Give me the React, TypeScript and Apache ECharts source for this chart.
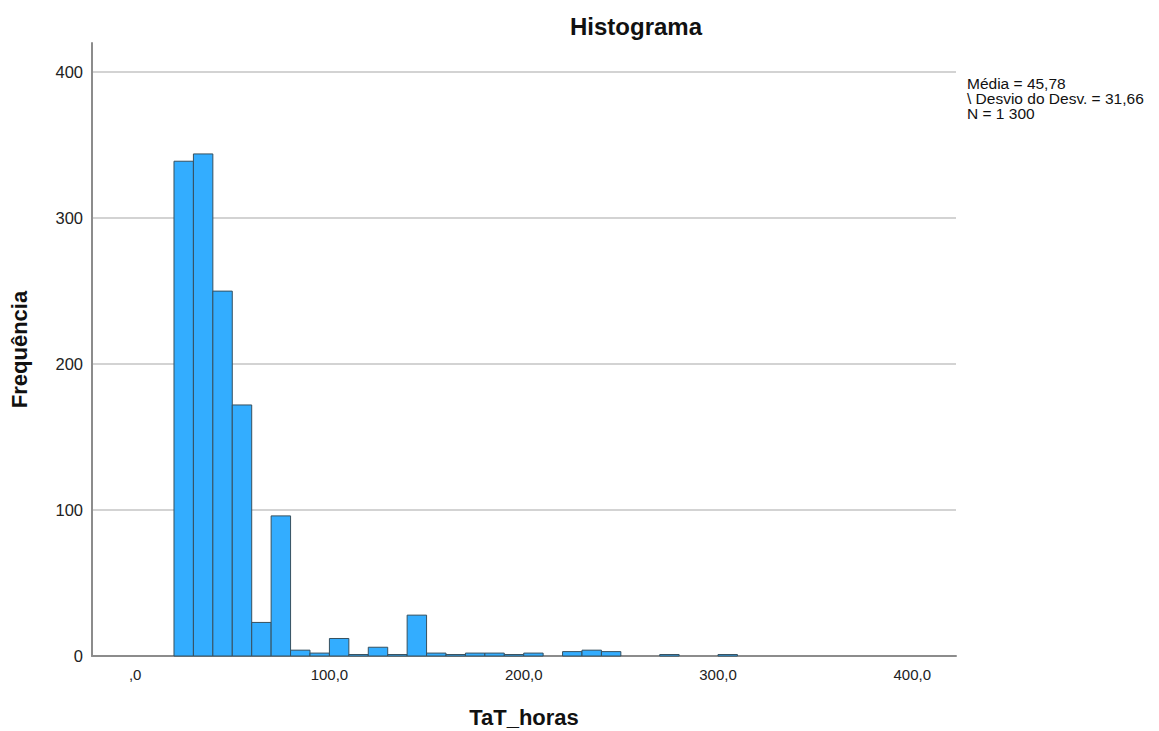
import React, { useEffect, useRef } from "react";
import * as echarts from "echarts";

const binStarts = [20, 30, 40, 50, 60, 70, 80, 90, 100, 110, 120, 130, 140, 150, 160, 170, 180, 190, 200, 210, 220, 230, 240, 250, 260, 270, 280, 290, 300];
const binWidth = 10;
const counts = [339, 344, 250, 172, 23, 96, 4, 2, 12, 1, 6, 1, 28, 2, 1, 2, 2, 1, 2, 0, 3, 4, 3, 0, 0, 1, 0, 0, 1];
const statsLines = ["Média = 45,78", "\\ Desvio do Desv. = 31,66", "N = 1 300"];
const titleText = "Histograma";
const xName = "TaT_horas";
const yName = "Frequência";

const FONT = "'Liberation Sans', Arial, sans-serif";

export default function App() {
  const ref = useRef<HTMLDivElement>(null);
  useEffect(() => {
    if (!ref.current) return;
    const chart = echarts.init(ref.current, undefined, { renderer: "svg" });
    const data = binStarts.map((s, i) => [s, s + binWidth, counts[i]]).filter((d) => d[2] > 0);
    chart.setOption({
      animation: false,
      backgroundColor: "#ffffff",
      title: {
        text: titleText,
        left: 631,
        textAlign: "center",
        top: 9,
        textStyle: { fontFamily: FONT, fontSize: 24, fontWeight: "bold", color: "#111" },
      },
      grid: { left: 92, right: 203, top: 43, bottom: 75, containLabel: false, outerBoundsMode: "none" },
      xAxis: {
        type: "value",
        min: -22.2,
        max: 422.5,
        name: xName,
        nameLocation: "middle",
        nameGap: 50,
        nameTextStyle: { fontFamily: FONT, fontSize: 22, fontWeight: "bold", color: "#111" },
        axisLine: { show: true, onZero: false, lineStyle: { color: "#8c8c8c", width: 2 } },
        axisTick: { show: false },
        splitLine: { show: false },
        axisLabel: {
          fontFamily: FONT,
          fontSize: 15,
          color: "#222",
          margin: 11,
          showMinLabel: false,
          showMaxLabel: false,
          formatter: (v: number) => {
            if (Math.abs(v % 100) > 1e-6) return "";
            return v === 0 ? ",0" : v.toFixed(1).replace(".", ",");
          },
        },
      },
      yAxis: {
        type: "value",
        min: 0,
        max: 420,
        interval: 100,
        name: yName,
        nameLocation: "middle",
        nameGap: 62,
        nameRotate: 90,
        nameTextStyle: { fontFamily: FONT, fontSize: 22, fontWeight: "bold", color: "#111" },
        axisLine: { show: true, onZero: false, lineStyle: { color: "#8c8c8c", width: 2 } },
        axisTick: { show: false },
        splitLine: { show: true, showMaxLine: false, showMinLine: false, lineStyle: { color: "#c4c4c4", width: 1.5 } },
        axisLabel: {
          fontFamily: FONT,
          fontSize: 16.5,
          color: "#222",
          margin: 9,
          formatter: (v: number) => (v % 100 === 0 ? String(v) : ""),
        },
      },
      graphic: [
        {
          type: "text",
          left: 967,
          top: 75,
          style: {
            text: statsLines.join("\n"),
            fontFamily: FONT,
            fontSize: 15.5,
            lineHeight: 15,
            fill: "#111",
          },
        },
      ],
      series: [
        {
          type: "custom",
          data,
          encode: { x: [0, 1], y: 2 },
          renderItem: (params: any, api: any) => {
            const p0 = api.coord([api.value(0), api.value(2)]);
            const p1 = api.coord([api.value(1), 0]);
            return {
              type: "rect",
              shape: { x: p0[0], y: p0[1], width: p1[0] - p0[0], height: p1[1] - p0[1] },
              style: { fill: "#33adff", stroke: "#36505f", lineWidth: 1 },
            };
          },
        },
      ],
    });
    return () => chart.dispose();
  }, []);
  return <div ref={ref} style={{ width: 1159, height: 731, position: "absolute", left: 0, top: 0 }} />;
}
